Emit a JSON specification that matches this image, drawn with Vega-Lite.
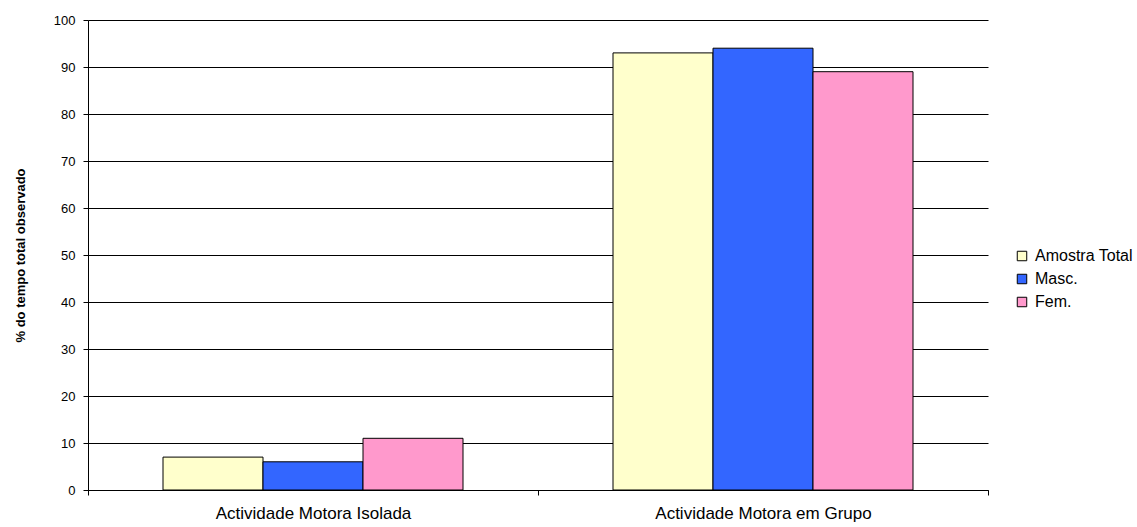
{
  "$schema": "https://vega.github.io/schema/vega-lite/v6.json",
  "autosize": "none",
  "width": 900,
  "height": 470,
  "padding": {"left": 88, "top": 20, "right": 149, "bottom": 37},
  "background": "white",
  "config": {
    "view": {"stroke": null},
    "font": "Liberation Sans"
  },
  "data": {
    "values": [
      {"cat": "Actividade Motora Isolada", "grupo": "Amostra Total", "v": 7},
      {"cat": "Actividade Motora Isolada", "grupo": "Masc.", "v": 6},
      {"cat": "Actividade Motora Isolada", "grupo": "Fem.", "v": 11},
      {"cat": "Actividade Motora em Grupo", "grupo": "Amostra Total", "v": 93},
      {"cat": "Actividade Motora em Grupo", "grupo": "Masc.", "v": 94},
      {"cat": "Actividade Motora em Grupo", "grupo": "Fem.", "v": 89}
    ]
  },
  "mark": {"type": "bar", "stroke": "black", "strokeWidth": 1},
  "encoding": {
    "x": {
      "field": "cat", "type": "nominal", "sort": null,
      "scale": {"paddingInner": 0, "paddingOuter": 0},
      "axis": {
        "title": null, "labelAngle": 0, "tickBand": "extent",
        "domainColor": "black", "tickColor": "black", "tickSize": 5,
        "labelFontSize": 17, "labelColor": "black", "labelPadding": 10,
        "labelLimit": 400, "grid": false
      }
    },
    "xOffset": {
      "field": "grupo", "type": "nominal", "sort": ["Amostra Total", "Masc.", "Fem."],
      "scale": {"paddingInner": 0, "paddingOuter": 0.75}
    },
    "y": {
      "field": "v", "type": "quantitative",
      "scale": {"domain": [0, 100], "nice": false},
      "axis": {
        "title": "% do tempo total observado",
        "titleFontSize": 13, "titleFontWeight": "bold", "titleColor": "black",
        "titlePadding": 26,
        "values": [0,10,20,30,40,50,60,70,80,90,100],
        "domainColor": "black", "tickColor": "black", "tickSize": 5,
        "labelFontSize": 13, "labelColor": "black", "labelPadding": 8,
        "grid": true, "gridColor": "black", "gridOpacity": 1, "gridWidth": 1
      }
    },
    "fill": {
      "field": "grupo", "type": "nominal",
      "sort": ["Amostra Total", "Masc.", "Fem."],
      "scale": {"domain": ["Amostra Total", "Masc.", "Fem."], "range": ["#FFFFCC", "#3366FF", "#FF99CC"]},
      "legend": {
        "title": null, "orient": "none", "legendX": 926, "legendY": 228,
        "symbolType": "square", "symbolSize": 90, "symbolStrokeColor": "black", "symbolStrokeWidth": 1,
        "labelFontSize": 16, "labelColor": "black", "labelOffset": 5, "rowPadding": 7,
        "labelLimit": 300
      }
    }
  }
}
